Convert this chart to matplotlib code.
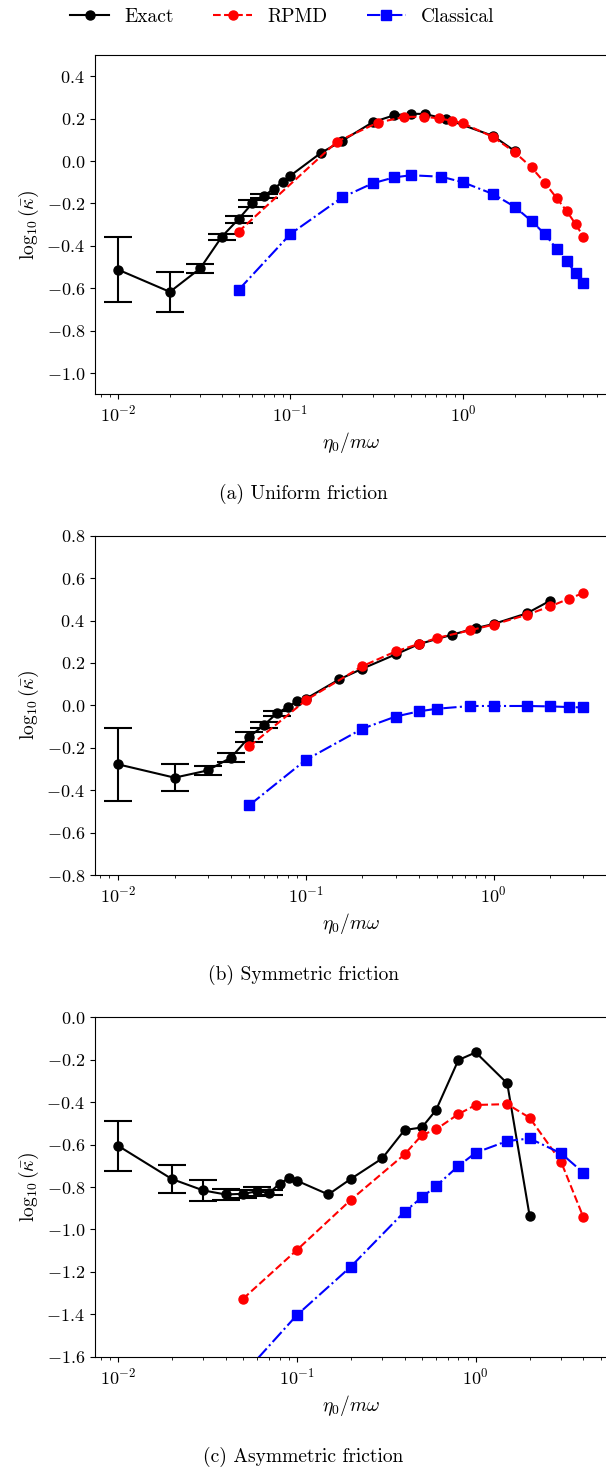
import numpy as np
import matplotlib
matplotlib.use("Agg")
from matplotlib import pyplot as plt
from matplotlib.ticker import MultipleLocator

plt.rcParams["font.family"] = "serif"
plt.rcParams["font.serif"] = ["cmr10", "DejaVu Serif"]
plt.rcParams["mathtext.fontset"] = "cm"
plt.rcParams["axes.formatter.use_mathtext"] = True
plt.rcParams["axes.unicode_minus"] = True

# (a) Uniform friction
a_exact_x = [0.01, 0.02, 0.03, 0.04, 0.05, 0.06, 0.07, 0.08, 0.09, 0.1, 0.15, 0.2, 0.3, 0.4, 0.5, 0.6, 0.8, 1.5, 2.0]
a_exact_y = [-0.512, -0.617, -0.506, -0.357, -0.274, -0.200, -0.165, -0.131, -0.098, -0.069, 0.038, 0.096, 0.183, 0.216, 0.223, 0.222, 0.198, 0.118, 0.047]
a_exact_err = [0.152, 0.096, 0.021, 0.014, 0.017, 0.015, 0.010]
a_rpmd_x = [0.05, 0.186, 0.321, 0.457, 0.593, 0.729, 0.864, 1.0, 1.5, 2.0, 2.5, 3.0, 3.5, 4.0, 4.5, 5.0]
a_rpmd_y = [-0.333, 0.091, 0.181, 0.208, 0.209, 0.201, 0.190, 0.178, 0.113, 0.041, -0.030, -0.105, -0.175, -0.236, -0.297, -0.357]
a_class_x = [0.05, 0.1, 0.2, 0.3, 0.4, 0.5, 0.75, 1.0, 1.5, 2.0, 2.5, 3.0, 3.5, 4.0, 4.5, 5.0]
a_class_y = [-0.608, -0.344, -0.171, -0.105, -0.077, -0.067, -0.074, -0.100, -0.156, -0.216, -0.283, -0.346, -0.415, -0.473, -0.527, -0.577]

# (b) Symmetric friction
b_exact_x = [0.01, 0.02, 0.03, 0.04, 0.05, 0.06, 0.07, 0.08, 0.09, 0.1, 0.15, 0.2, 0.3, 0.4, 0.6, 0.8, 1.0, 1.5, 2.0]
b_exact_y = [-0.278, -0.341, -0.307, -0.246, -0.149, -0.092, -0.038, -0.008, 0.019, 0.031, 0.122, 0.173, 0.240, 0.289, 0.333, 0.364, 0.384, 0.434, 0.494]
b_exact_err = [0.172, 0.065, 0.022, 0.020, 0.025, 0.015, 0.012]
b_rpmd_x = [0.05, 0.1, 0.2, 0.3, 0.4, 0.5, 0.75, 1.0, 1.5, 2.0, 2.5, 3.0]
b_rpmd_y = [-0.194, 0.024, 0.185, 0.254, 0.290, 0.318, 0.354, 0.381, 0.427, 0.467, 0.502, 0.530]
b_class_x = [0.05, 0.1, 0.2, 0.3, 0.4, 0.5, 0.75, 1.0, 1.5, 2.0, 2.5, 3.0]
b_class_y = [-0.471, -0.257, -0.110, -0.053, -0.028, -0.016, -0.003, -0.003, -0.003, -0.005, -0.008, -0.010]

# (c) Asymmetric friction
c_exact_x = [0.01, 0.02, 0.03, 0.04, 0.05, 0.06, 0.07, 0.08, 0.09, 0.1, 0.15, 0.2, 0.3, 0.4, 0.5, 0.6, 0.8, 1.0, 1.5, 2.0]
c_exact_y = [-0.605, -0.762, -0.816, -0.835, -0.832, -0.820, -0.827, -0.785, -0.758, -0.770, -0.835, -0.762, -0.665, -0.531, -0.519, -0.437, -0.201, -0.165, -0.311, -0.935]
c_exact_err = [0.118, 0.068, 0.048, 0.024, 0.020, 0.020, 0.012]
c_rpmd_x = [0.05, 0.1, 0.2, 0.4, 0.5, 0.6, 0.8, 1.0, 1.5, 2.0, 3.0, 4.0]
c_rpmd_y = [-1.327, -1.097, -0.861, -0.646, -0.555, -0.528, -0.456, -0.413, -0.409, -0.473, -0.681, -0.943]
c_class_x = [0.05, 0.1, 0.2, 0.4, 0.5, 0.6, 0.8, 1.0, 1.5, 2.0, 3.0, 4.0]
c_class_y = [-1.685, -1.404, -1.176, -0.916, -0.849, -0.795, -0.701, -0.638, -0.583, -0.571, -0.641, -0.733]

paneles = [
    (a_exact_x, a_exact_y, a_exact_err, a_rpmd_x, a_rpmd_y, a_class_x, a_class_y, (-1.1, 0.5), "(a) Uniform friction"),
    (b_exact_x, b_exact_y, b_exact_err, b_rpmd_x, b_rpmd_y, b_class_x, b_class_y, (-0.8, 0.8), "(b) Symmetric friction"),
    (c_exact_x, c_exact_y, c_exact_err, c_rpmd_x, c_rpmd_y, c_class_x, c_class_y, (-1.6, 0.0), "(c) Asymmetric friction"),
]

W, H = 606, 1469
fig = plt.figure(figsize=(W / 100, H / 100), dpi=100)

tops = [55, 535.7, 1017.4]
alto = 339.3
izq, ancho = 94.7, 512
caption_y = [494, 975, 1457]

for i, (ex, ey, eerr, rx, ry, cx, cy, ylim, titulo) in enumerate(paneles):
    ax = fig.add_axes([izq / W, 1 - (tops[i] + alto) / H, ancho / W, alto / H])
    l1, = ax.plot(ex, ey, "-o", color="k", lw=1.5, ms=6.5, label="Exact")
    n = len(eerr)
    ax.errorbar(ex[:n], ey[:n], yerr=eerr, fmt="none", ecolor="k", elinewidth=1.5,
                capsize=10, capthick=1.5)
    l2, = ax.plot(rx, ry, "--o", color="red", lw=1.5, ms=6.5, label="RPMD")
    l3, = ax.plot(cx, cy, "-.s", color="blue", lw=1.5, ms=6.5, label="Classical")
    ax.set_xscale("log")
    ax.set_ylim(*ylim)
    ax.yaxis.set_major_locator(MultipleLocator(0.2))
    ax.spines["right"].set_visible(False)  # queda fuera del recorte en el original
    ax.tick_params(labelsize=13)
    ax.set_xlabel(r"$\eta_0/m\omega$", fontsize=14)
    ax.set_ylabel(r"$\log_{10}(\bar{\kappa})$", fontsize=14)
    fig.text(0.5, 1 - caption_y[i] / H, titulo, ha="center", va="center", fontsize=14)

fig.legend(handles=[l1, l2, l3], loc="center", bbox_to_anchor=(282.5 / W, 1 - 17 / H),
           ncol=3, frameon=False, fontsize=14)

fig.savefig("out.png", dpi=100)
